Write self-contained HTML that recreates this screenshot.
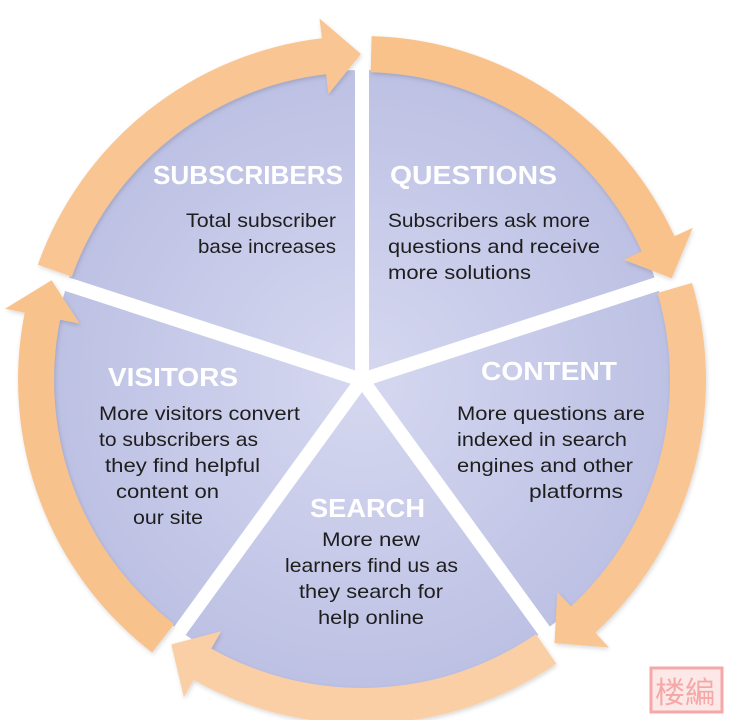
<!DOCTYPE html>
<html><head><meta charset="utf-8"><style>
html,body{margin:0;padding:0;background:#fff;}
svg{display:block;}
text{font-family:"Liberation Sans",sans-serif;}
.t{fill:#fff;font-weight:bold;font-size:26px;}
.b{fill:#1e1e1e;font-size:19.5px;}
</style></head><body>
<svg id="s" width="729" height="720" viewBox="0 0 729 720" xmlns="http://www.w3.org/2000/svg">
<defs>
<radialGradient id="wg" cx="362" cy="380" r="316" gradientUnits="userSpaceOnUse">
<stop offset="0" stop-color="#d6d8f0"/><stop offset="1" stop-color="#bcc0e3"/>
</radialGradient>
<filter id="sh" x="-10%" y="-10%" width="120%" height="120%"><feDropShadow dx="1" dy="2" stdDeviation="2" flood-color="#000" flood-opacity="0.15"/></filter>
</defs>
<g id="wedges"></g>
<g id="arcs"></g>
<g lengthAdjust="spacingAndGlyphs">
<text class="t" x="153" y="184" textLength="190" lengthAdjust="spacingAndGlyphs">SUBSCRIBERS</text>
<text class="b" x="186" y="227" textLength="150" lengthAdjust="spacingAndGlyphs">Total subscriber</text>
<text class="b" x="198" y="253" textLength="138" lengthAdjust="spacingAndGlyphs">base increases</text>

<text class="t" x="390" y="184" textLength="167" lengthAdjust="spacingAndGlyphs">QUESTIONS</text>
<text class="b" x="388" y="227" textLength="202" lengthAdjust="spacingAndGlyphs">Subscribers ask more</text>
<text class="b" x="388" y="253" textLength="212" lengthAdjust="spacingAndGlyphs">questions and receive</text>
<text class="b" x="388" y="279" textLength="143" lengthAdjust="spacingAndGlyphs">more solutions</text>

<text class="t" x="481" y="380" textLength="136" lengthAdjust="spacingAndGlyphs">CONTENT</text>
<text class="b" x="457" y="420" textLength="188" lengthAdjust="spacingAndGlyphs">More questions are</text>
<text class="b" x="457" y="446" textLength="170" lengthAdjust="spacingAndGlyphs">indexed in search</text>
<text class="b" x="457" y="472" textLength="176" lengthAdjust="spacingAndGlyphs">engines and other</text>
<text class="b" x="529" y="498" textLength="94" lengthAdjust="spacingAndGlyphs">platforms</text>

<text class="t" x="108" y="386" textLength="130" lengthAdjust="spacingAndGlyphs">VISITORS</text>
<text class="b" x="99" y="420" textLength="201" lengthAdjust="spacingAndGlyphs">More visitors convert</text>
<text class="b" x="99" y="446" textLength="159" lengthAdjust="spacingAndGlyphs">to subscribers as</text>
<text class="b" x="105" y="472" textLength="155" lengthAdjust="spacingAndGlyphs">they find helpful</text>
<text class="b" x="116" y="498" textLength="103" lengthAdjust="spacingAndGlyphs">content on</text>
<text class="b" x="133" y="524" textLength="70" lengthAdjust="spacingAndGlyphs">our site</text>

<text class="t" x="310" y="517" textLength="115" lengthAdjust="spacingAndGlyphs">SEARCH</text>
<text class="b" x="322" y="546" textLength="98" lengthAdjust="spacingAndGlyphs">More new</text>
<text class="b" x="285" y="572" textLength="173" lengthAdjust="spacingAndGlyphs">learners find us as</text>
<text class="b" x="299" y="598" textLength="144" lengthAdjust="spacingAndGlyphs">they search for</text>
<text class="b" x="318" y="624" textLength="106" lengthAdjust="spacingAndGlyphs">help online</text>
</g>
<rect x="651" y="668" width="71" height="44" fill="#fde8e8" stroke="#f4a8a8" stroke-width="3"/>
<text x="655" y="703" font-size="30" fill="#f4a8a8" style="font-family:'Liberation Sans','Noto Sans CJK SC',sans-serif">楼編</text>
</svg>
<script>
var cx=362,cy=380,R=317,NS="http://www.w3.org/2000/svg";
function P(r,a){a=a*Math.PI/180;return [cx+r*Math.cos(a),cy-r*Math.sin(a)];}
function f(p){return p[0].toFixed(1)+","+p[1].toFixed(1);}
var W=document.getElementById("wedges"),A=document.getElementById("arcs");
var B=[90,18,-54,-126,162];
for(var i=0;i<5;i++){
  var a0=B[i],a1=a0-72;
  var d="M"+cx+","+cy+" L"+f(P(R,a0))+" A"+R+","+R+" 0 0 1 "+f(P(R,a1))+" Z";
  var p=document.createElementNS(NS,"path");p.setAttribute("d",d);p.setAttribute("fill","url(#wg)");
  p.setAttribute("stroke","#fff");p.setAttribute("stroke-width","14");p.setAttribute("stroke-linejoin","miter");
  W.appendChild(p);
}
var cols=["#f8c28a","#f9c592","#fbcfa6","#f8c28c","#f9c592"];
for(var i=0;i<5;i++){
  var s=B[i]-1.6,tip=B[i]-72+0.2,hb=tip+6.5;
  var ri=308,ro=344,rm=326,hi=288,ho=364;
  var d="M"+f(P(ro,s))+" A"+ro+","+ro+" 0 0 1 "+f(P(ro,hb))+" L"+f(P(ho,hb))+" L"+f(P(rm,tip))+" L"+f(P(hi,hb))+" L"+f(P(ri,hb))+" A"+ri+","+ri+" 0 0 0 "+f(P(ri,s))+" Z";
  var p=document.createElementNS(NS,"path");p.setAttribute("d",d);p.setAttribute("fill",cols[i]);p.setAttribute("filter","url(#sh)");
  A.appendChild(p);
}
</script>
</body></html>
